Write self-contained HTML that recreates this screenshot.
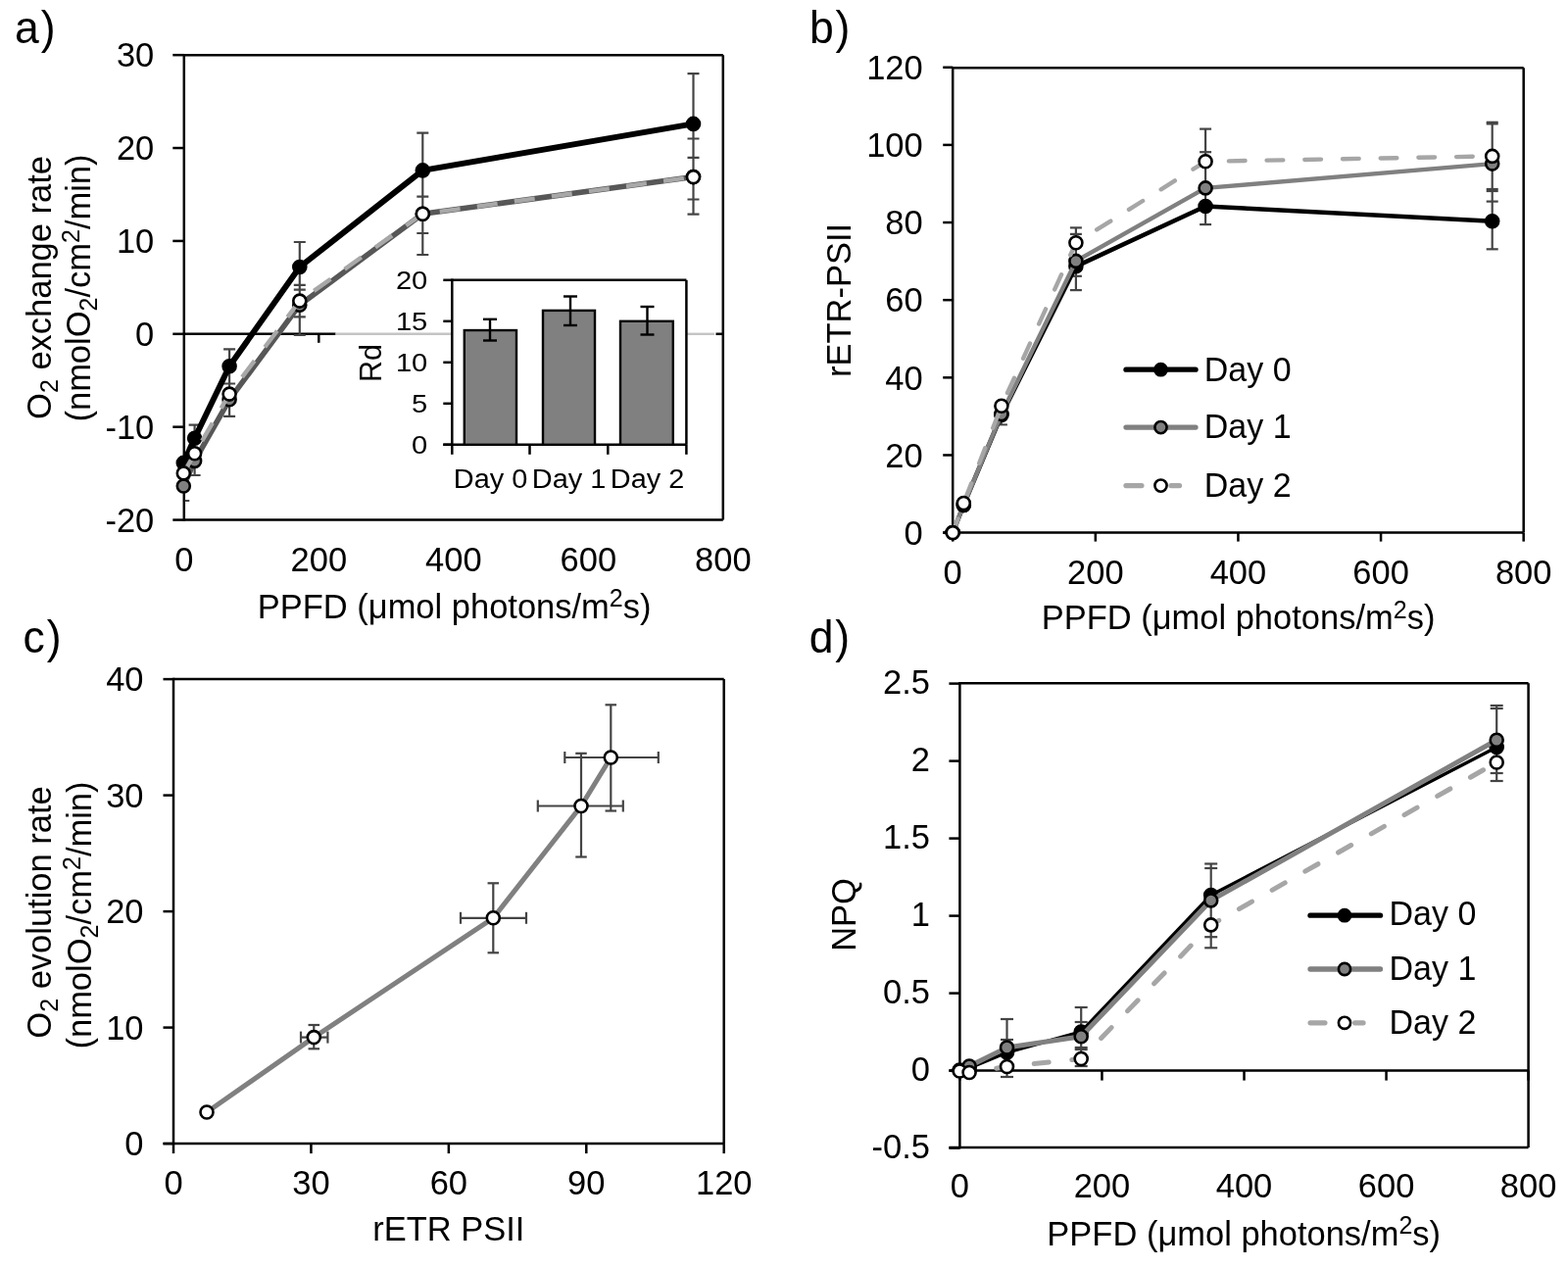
<!DOCTYPE html>
<html><head><meta charset="utf-8"><title>Figure</title>
<style>
html,body{margin:0;padding:0;background:#fff;}
svg{display:block;filter:blur(0.45px);}
svg text{font-family:"Liberation Sans", Arial, sans-serif;fill:#000;}
</style></head>
<body>
<svg width="1600" height="1294" viewBox="0 0 1600 1294">
<rect width="1600" height="1294" fill="#fff"/>
<g id="pa">
<text transform="translate(15.10,43.70) scale(1,1.035)" text-anchor="start" font-size="44.5" letter-spacing="1.8">a)</text>
<line x1="187.80" y1="56.20" x2="737.80" y2="56.20" stroke="#000" stroke-width="2.5" />
<line x1="737.80" y1="56.20" x2="737.80" y2="530.60" stroke="#000" stroke-width="2.5" />
<line x1="187.80" y1="530.60" x2="737.80" y2="530.60" stroke="#000" stroke-width="2.5" />
<line x1="187.80" y1="54.95" x2="187.80" y2="531.85" stroke="#000" stroke-width="2.5" />
<line x1="176.30" y1="56.16" x2="187.80" y2="56.16" stroke="#000" stroke-width="2.5" />
<text transform="translate(157.30,68.36) scale(1,1.035)" text-anchor="end" font-size="34.5" >30</text>
<line x1="176.30" y1="151.04" x2="187.80" y2="151.04" stroke="#000" stroke-width="2.5" />
<text transform="translate(157.30,163.24) scale(1,1.035)" text-anchor="end" font-size="34.5" >20</text>
<line x1="176.30" y1="245.92" x2="187.80" y2="245.92" stroke="#000" stroke-width="2.5" />
<text transform="translate(157.30,258.12) scale(1,1.035)" text-anchor="end" font-size="34.5" >10</text>
<line x1="176.30" y1="340.80" x2="187.80" y2="340.80" stroke="#000" stroke-width="2.5" />
<text transform="translate(157.30,353.00) scale(1,1.035)" text-anchor="end" font-size="34.5" >0</text>
<line x1="176.30" y1="435.68" x2="187.80" y2="435.68" stroke="#000" stroke-width="2.5" />
<text transform="translate(157.30,447.88) scale(1,1.035)" text-anchor="end" font-size="34.5" >-10</text>
<line x1="176.30" y1="530.56" x2="187.80" y2="530.56" stroke="#000" stroke-width="2.5" />
<text transform="translate(157.30,542.76) scale(1,1.035)" text-anchor="end" font-size="34.5" >-20</text>
<line x1="187.80" y1="340.80" x2="342.50" y2="340.80" stroke="#000" stroke-width="2.5" />
<line x1="342.50" y1="340.80" x2="461.30" y2="340.80" stroke="#c4c4c4" stroke-width="2.4" />
<line x1="700.40" y1="340.80" x2="729.00" y2="340.80" stroke="#c4c4c4" stroke-width="2.4" />
<line x1="730.50" y1="340.80" x2="737.80" y2="340.80" stroke="#000" stroke-width="2.5" />
<line x1="325.30" y1="340.80" x2="325.30" y2="349.80" stroke="#000" stroke-width="2.5" />
<text transform="translate(187.80,583.00) scale(1,1.035)" text-anchor="middle" font-size="34.5" >0</text>
<text transform="translate(325.30,583.00) scale(1,1.035)" text-anchor="middle" font-size="34.5" >200</text>
<text transform="translate(462.80,583.00) scale(1,1.035)" text-anchor="middle" font-size="34.5" >400</text>
<text transform="translate(600.30,583.00) scale(1,1.035)" text-anchor="middle" font-size="34.5" >600</text>
<text transform="translate(737.80,583.00) scale(1,1.035)" text-anchor="middle" font-size="34.5" >800</text>
<text transform="translate(463.60,630.50) scale(1,1.035)" text-anchor="middle" font-size="34.5" >PPFD (μmol photons/m<tspan dy="-11" font-size="25">2</tspan><tspan dy="11">s)</tspan></text>
<text transform="translate(51.50,293.50) rotate(-90) scale(1,1.035)" text-anchor="middle" font-size="34.5">O<tspan dy="7" font-size="25">2</tspan><tspan dy="-7"> exchange rate</tspan></text>
<text transform="translate(92.00,294.00) rotate(-90) scale(1,1.035)" text-anchor="middle" font-size="34.5">(nmolO<tspan dy="7" font-size="25">2</tspan><tspan dy="-7">/cm</tspan><tspan dy="-11" font-size="25">2</tspan><tspan dy="11">/min)</tspan></text>
<clipPath id="ca"><rect x="188.5" y="56" width="560" height="474"/></clipPath>
<g clip-path="url(#ca)">
<line x1="187.30" y1="496.00" x2="187.30" y2="511.00" stroke="#444" stroke-width="2" />
<line x1="181.30" y1="511.00" x2="193.30" y2="511.00" stroke="#444" stroke-width="2" />
<line x1="198.60" y1="433.70" x2="198.60" y2="485.00" stroke="#444" stroke-width="2.2" />
<line x1="192.60" y1="433.70" x2="204.60" y2="433.70" stroke="#444" stroke-width="2.2" />
<line x1="192.60" y1="485.00" x2="204.60" y2="485.00" stroke="#444" stroke-width="2.2" />
<line x1="234.10" y1="356.30" x2="234.10" y2="424.80" stroke="#444" stroke-width="2.2" />
<line x1="228.10" y1="356.30" x2="240.10" y2="356.30" stroke="#444" stroke-width="2.2" />
<line x1="228.10" y1="391.50" x2="240.10" y2="391.50" stroke="#444" stroke-width="2.2" />
<line x1="228.10" y1="424.80" x2="240.10" y2="424.80" stroke="#444" stroke-width="2.2" />
<line x1="305.80" y1="247.00" x2="305.80" y2="342.00" stroke="#444" stroke-width="2.2" />
<line x1="299.80" y1="247.00" x2="311.80" y2="247.00" stroke="#444" stroke-width="2.2" />
<line x1="299.80" y1="290.90" x2="311.80" y2="290.90" stroke="#444" stroke-width="2.2" />
<line x1="299.80" y1="295.70" x2="311.80" y2="295.70" stroke="#444" stroke-width="2.2" />
<line x1="299.80" y1="323.30" x2="311.80" y2="323.30" stroke="#444" stroke-width="2.2" />
<line x1="299.80" y1="342.00" x2="311.80" y2="342.00" stroke="#444" stroke-width="2.2" />
<line x1="431.30" y1="135.70" x2="431.30" y2="260.00" stroke="#444" stroke-width="2.2" />
<line x1="425.30" y1="135.70" x2="437.30" y2="135.70" stroke="#444" stroke-width="2.2" />
<line x1="425.30" y1="200.60" x2="437.30" y2="200.60" stroke="#444" stroke-width="2.2" />
<line x1="425.30" y1="238.00" x2="437.30" y2="238.00" stroke="#444" stroke-width="2.2" />
<line x1="425.30" y1="260.00" x2="437.30" y2="260.00" stroke="#444" stroke-width="2.2" />
<line x1="707.50" y1="75.10" x2="707.50" y2="218.70" stroke="#444" stroke-width="2.2" />
<line x1="701.50" y1="75.10" x2="713.50" y2="75.10" stroke="#444" stroke-width="2.2" />
<line x1="701.50" y1="141.50" x2="713.50" y2="141.50" stroke="#444" stroke-width="2.2" />
<line x1="701.50" y1="160.90" x2="713.50" y2="160.90" stroke="#444" stroke-width="2.2" />
<line x1="701.50" y1="203.50" x2="713.50" y2="203.50" stroke="#444" stroke-width="2.2" />
<line x1="701.50" y1="218.70" x2="713.50" y2="218.70" stroke="#444" stroke-width="2.2" />
</g>
<polyline points="187.30,472.40 198.60,447.20 234.10,373.70 305.80,272.50 431.30,173.90 707.50,126.40" fill="none" stroke="#000" stroke-width="6" stroke-linejoin="round" />
<circle cx="187.30" cy="472.40" r="6.5" fill="#000" stroke="#000" stroke-width="2.6"/>
<circle cx="198.60" cy="447.20" r="6.5" fill="#000" stroke="#000" stroke-width="2.6"/>
<circle cx="234.10" cy="373.70" r="6.5" fill="#000" stroke="#000" stroke-width="2.6"/>
<circle cx="305.80" cy="272.50" r="6.5" fill="#000" stroke="#000" stroke-width="2.6"/>
<circle cx="431.30" cy="173.90" r="6.5" fill="#000" stroke="#000" stroke-width="2.6"/>
<circle cx="707.50" cy="126.40" r="6.5" fill="#000" stroke="#000" stroke-width="2.6"/>
<polyline points="187.30,496.00 198.60,470.40 234.10,407.80 305.80,311.20 431.30,218.30 707.50,180.60" fill="none" stroke="#575757" stroke-width="5.6" stroke-linejoin="round" />
<circle cx="187.30" cy="496.00" r="6.5" fill="#808080" stroke="#000" stroke-width="2.6"/>
<circle cx="198.60" cy="470.40" r="6.5" fill="#808080" stroke="#000" stroke-width="2.6"/>
<circle cx="234.10" cy="407.80" r="6.5" fill="#808080" stroke="#000" stroke-width="2.6"/>
<circle cx="305.80" cy="311.20" r="6.5" fill="#808080" stroke="#000" stroke-width="2.6"/>
<circle cx="431.30" cy="218.30" r="6.5" fill="#808080" stroke="#000" stroke-width="2.6"/>
<circle cx="707.50" cy="180.60" r="6.5" fill="#808080" stroke="#000" stroke-width="2.6"/>
<polyline points="187.30,482.90 198.60,462.80 234.10,402.10 305.80,307.10 431.30,218.30 707.50,180.60" fill="none" stroke="#a8a8a8" stroke-width="4.4" stroke-linejoin="round" stroke-dasharray="21 17.4" stroke-dashoffset="0.26" stroke-linecap="butt"/>
<circle cx="187.30" cy="482.90" r="6.5" fill="#fff" stroke="#000" stroke-width="2.6"/>
<circle cx="198.60" cy="462.80" r="6.5" fill="#fff" stroke="#000" stroke-width="2.6"/>
<circle cx="234.10" cy="402.10" r="6.5" fill="#fff" stroke="#000" stroke-width="2.6"/>
<circle cx="305.80" cy="307.10" r="6.5" fill="#fff" stroke="#000" stroke-width="2.6"/>
<circle cx="431.30" cy="218.30" r="6.5" fill="#fff" stroke="#000" stroke-width="2.6"/>
<circle cx="707.50" cy="180.60" r="6.5" fill="#fff" stroke="#000" stroke-width="2.6"/>
</g>
<g id="inset">
<line x1="461.30" y1="285.80" x2="700.40" y2="285.80" stroke="#000" stroke-width="2.5" />
<line x1="700.40" y1="285.80" x2="700.40" y2="453.80" stroke="#000" stroke-width="2.5" />
<line x1="461.30" y1="284.55" x2="461.30" y2="455.05" stroke="#000" stroke-width="2.5" />
<line x1="452.30" y1="453.80" x2="700.40" y2="453.80" stroke="#000" stroke-width="2.5" />
<line x1="452.30" y1="453.80" x2="461.30" y2="453.80" stroke="#000" stroke-width="2.5" />
<text transform="translate(436.30,463.10) scale(1.1,1.0)" text-anchor="end" font-size="26.5">0</text>
<line x1="452.30" y1="411.80" x2="461.30" y2="411.80" stroke="#000" stroke-width="2.5" />
<text transform="translate(436.30,421.10) scale(1.1,1.0)" text-anchor="end" font-size="26.5">5</text>
<line x1="452.30" y1="369.80" x2="461.30" y2="369.80" stroke="#000" stroke-width="2.5" />
<text transform="translate(436.30,379.10) scale(1.1,1.0)" text-anchor="end" font-size="26.5">10</text>
<line x1="452.30" y1="327.80" x2="461.30" y2="327.80" stroke="#000" stroke-width="2.5" />
<text transform="translate(436.30,337.10) scale(1.1,1.0)" text-anchor="end" font-size="26.5">15</text>
<line x1="452.30" y1="285.80" x2="461.30" y2="285.80" stroke="#000" stroke-width="2.5" />
<text transform="translate(436.30,295.10) scale(1.1,1.0)" text-anchor="end" font-size="26.5">20</text>
<line x1="461.30" y1="453.80" x2="461.30" y2="463.80" stroke="#000" stroke-width="2.5" />
<line x1="540.50" y1="453.80" x2="540.50" y2="463.80" stroke="#000" stroke-width="2.5" />
<line x1="620.30" y1="453.80" x2="620.30" y2="463.80" stroke="#000" stroke-width="2.5" />
<line x1="700.40" y1="453.80" x2="700.40" y2="463.80" stroke="#000" stroke-width="2.5" />
<rect x="473.80" y="337.04" width="53.20" height="116.76" fill="#808080" stroke="#000" stroke-width="2.4"/>
<line x1="500.00" y1="325.80" x2="500.00" y2="347.50" stroke="#000" stroke-width="2.4" />
<line x1="493.00" y1="325.80" x2="507.00" y2="325.80" stroke="#000" stroke-width="2.4" />
<line x1="493.00" y1="347.50" x2="507.00" y2="347.50" stroke="#000" stroke-width="2.4" />
<rect x="554.00" y="316.88" width="53.00" height="136.92" fill="#808080" stroke="#000" stroke-width="2.4"/>
<line x1="582.00" y1="302.50" x2="582.00" y2="332.00" stroke="#000" stroke-width="2.4" />
<line x1="575.00" y1="302.50" x2="589.00" y2="302.50" stroke="#000" stroke-width="2.4" />
<line x1="575.00" y1="332.00" x2="589.00" y2="332.00" stroke="#000" stroke-width="2.4" />
<rect x="633.00" y="327.80" width="53.80" height="126.00" fill="#808080" stroke="#000" stroke-width="2.4"/>
<line x1="660.50" y1="313.00" x2="660.50" y2="341.50" stroke="#000" stroke-width="2.4" />
<line x1="653.50" y1="313.00" x2="667.50" y2="313.00" stroke="#000" stroke-width="2.4" />
<line x1="653.50" y1="341.50" x2="667.50" y2="341.50" stroke="#000" stroke-width="2.4" />
<text transform="translate(500.50,497.80) scale(1.07,1.0)" text-anchor="middle" font-size="27">Day 0</text>
<text transform="translate(580.50,497.80) scale(1.07,1.0)" text-anchor="middle" font-size="27">Day 1</text>
<text transform="translate(660.50,497.80) scale(1.07,1.0)" text-anchor="middle" font-size="27">Day 2</text>
<text transform="translate(388.80,370.50) rotate(-90) scale(1.0,1.0)" text-anchor="middle" font-size="30.5">Rd</text>
</g>
<text transform="translate(826.00,43.70) scale(1,1.035)" text-anchor="start" font-size="44.5" letter-spacing="1.8">b)</text>
<line x1="972.20" y1="69.20" x2="1554.70" y2="69.20" stroke="#000" stroke-width="2.5" />
<line x1="1554.70" y1="69.20" x2="1554.70" y2="543.60" stroke="#000" stroke-width="2.5" />
<line x1="962.20" y1="543.60" x2="1554.70" y2="543.60" stroke="#000" stroke-width="2.5" />
<line x1="972.20" y1="67.95" x2="972.20" y2="544.85" stroke="#000" stroke-width="2.5" />
<line x1="962.20" y1="543.60" x2="972.20" y2="543.60" stroke="#000" stroke-width="2.5" />
<text transform="translate(941.70,555.80) scale(1,1.035)" text-anchor="end" font-size="34.5" >0</text>
<line x1="962.20" y1="464.46" x2="972.20" y2="464.46" stroke="#000" stroke-width="2.5" />
<text transform="translate(941.70,476.66) scale(1,1.035)" text-anchor="end" font-size="34.5" >20</text>
<line x1="962.20" y1="385.32" x2="972.20" y2="385.32" stroke="#000" stroke-width="2.5" />
<text transform="translate(941.70,397.52) scale(1,1.035)" text-anchor="end" font-size="34.5" >40</text>
<line x1="962.20" y1="306.18" x2="972.20" y2="306.18" stroke="#000" stroke-width="2.5" />
<text transform="translate(941.70,318.38) scale(1,1.035)" text-anchor="end" font-size="34.5" >60</text>
<line x1="962.20" y1="227.04" x2="972.20" y2="227.04" stroke="#000" stroke-width="2.5" />
<text transform="translate(941.70,239.24) scale(1,1.035)" text-anchor="end" font-size="34.5" >80</text>
<line x1="962.20" y1="147.90" x2="972.20" y2="147.90" stroke="#000" stroke-width="2.5" />
<text transform="translate(941.70,160.10) scale(1,1.035)" text-anchor="end" font-size="34.5" >100</text>
<line x1="962.20" y1="68.76" x2="972.20" y2="68.76" stroke="#000" stroke-width="2.5" />
<text transform="translate(941.70,80.96) scale(1,1.035)" text-anchor="end" font-size="34.5" >120</text>
<line x1="972.20" y1="543.60" x2="972.20" y2="552.60" stroke="#000" stroke-width="2.5" />
<text transform="translate(972.20,596.00) scale(1,1.035)" text-anchor="middle" font-size="34.5" >0</text>
<line x1="1117.82" y1="543.60" x2="1117.82" y2="552.60" stroke="#000" stroke-width="2.5" />
<text transform="translate(1117.82,596.00) scale(1,1.035)" text-anchor="middle" font-size="34.5" >200</text>
<line x1="1263.44" y1="543.60" x2="1263.44" y2="552.60" stroke="#000" stroke-width="2.5" />
<text transform="translate(1263.44,596.00) scale(1,1.035)" text-anchor="middle" font-size="34.5" >400</text>
<line x1="1409.06" y1="543.60" x2="1409.06" y2="552.60" stroke="#000" stroke-width="2.5" />
<text transform="translate(1409.06,596.00) scale(1,1.035)" text-anchor="middle" font-size="34.5" >600</text>
<line x1="1554.68" y1="543.60" x2="1554.68" y2="552.60" stroke="#000" stroke-width="2.5" />
<text transform="translate(1554.68,596.00) scale(1,1.035)" text-anchor="middle" font-size="34.5" >800</text>
<text transform="translate(1263.50,642.20) scale(1,1.035)" text-anchor="middle" font-size="34.5" >PPFD (μmol photons/m<tspan dy="-11" font-size="25">2</tspan><tspan dy="11">s)</tspan></text>
<text transform="translate(868.00,306.50) rotate(-90) scale(1,1.035)" text-anchor="middle" font-size="34.5">rETR-PSII</text>
<line x1="1021.90" y1="422.50" x2="1021.90" y2="433.40" stroke="#444" stroke-width="2" />
<line x1="1015.90" y1="433.40" x2="1027.90" y2="433.40" stroke="#444" stroke-width="2" />
<line x1="1097.90" y1="232.40" x2="1097.90" y2="296.10" stroke="#444" stroke-width="2.2" />
<line x1="1091.90" y1="232.40" x2="1103.90" y2="232.40" stroke="#444" stroke-width="2.2" />
<line x1="1091.90" y1="238.90" x2="1103.90" y2="238.90" stroke="#444" stroke-width="2.2" />
<line x1="1091.90" y1="281.80" x2="1103.90" y2="281.80" stroke="#444" stroke-width="2.2" />
<line x1="1091.90" y1="296.10" x2="1103.90" y2="296.10" stroke="#444" stroke-width="2.2" />
<line x1="1230.10" y1="131.60" x2="1230.10" y2="229.10" stroke="#444" stroke-width="2.2" />
<line x1="1224.10" y1="131.60" x2="1236.10" y2="131.60" stroke="#444" stroke-width="2.2" />
<line x1="1224.10" y1="155.20" x2="1236.10" y2="155.20" stroke="#444" stroke-width="2.2" />
<line x1="1224.10" y1="229.10" x2="1236.10" y2="229.10" stroke="#444" stroke-width="2.2" />
<line x1="1522.70" y1="124.80" x2="1522.70" y2="254.30" stroke="#444" stroke-width="2.2" />
<line x1="1516.70" y1="124.80" x2="1528.70" y2="124.80" stroke="#444" stroke-width="2.2" />
<line x1="1516.70" y1="126.40" x2="1528.70" y2="126.40" stroke="#444" stroke-width="2.2" />
<line x1="1516.70" y1="193.00" x2="1528.70" y2="193.00" stroke="#444" stroke-width="2.2" />
<line x1="1516.70" y1="195.00" x2="1528.70" y2="195.00" stroke="#444" stroke-width="2.2" />
<line x1="1516.70" y1="205.60" x2="1528.70" y2="205.60" stroke="#444" stroke-width="2.2" />
<line x1="1516.70" y1="254.30" x2="1528.70" y2="254.30" stroke="#444" stroke-width="2.2" />
<polyline points="972.20,543.60 983.30,515.50 1021.90,423.50 1097.90,271.80 1230.10,210.50 1522.70,225.80" fill="none" stroke="#000" stroke-width="4.6" stroke-linejoin="round" />
<circle cx="972.20" cy="543.60" r="6.5" fill="#000" stroke="#000" stroke-width="2.6"/>
<circle cx="983.30" cy="515.50" r="6.5" fill="#000" stroke="#000" stroke-width="2.6"/>
<circle cx="1021.90" cy="423.50" r="6.5" fill="#000" stroke="#000" stroke-width="2.6"/>
<circle cx="1097.90" cy="271.80" r="6.5" fill="#000" stroke="#000" stroke-width="2.6"/>
<circle cx="1230.10" cy="210.50" r="6.5" fill="#000" stroke="#000" stroke-width="2.6"/>
<circle cx="1522.70" cy="225.80" r="6.5" fill="#000" stroke="#000" stroke-width="2.6"/>
<polyline points="972.20,543.60 983.30,515.50 1021.90,422.50 1097.90,266.40 1230.10,191.90 1522.70,167.10" fill="none" stroke="#808080" stroke-width="4.4" stroke-linejoin="round" />
<circle cx="972.20" cy="543.60" r="6.5" fill="#808080" stroke="#000" stroke-width="2.6"/>
<circle cx="983.30" cy="515.50" r="6.5" fill="#808080" stroke="#000" stroke-width="2.6"/>
<circle cx="1021.90" cy="422.50" r="6.5" fill="#808080" stroke="#000" stroke-width="2.6"/>
<circle cx="1097.90" cy="266.40" r="6.5" fill="#808080" stroke="#000" stroke-width="2.6"/>
<circle cx="1230.10" cy="191.90" r="6.5" fill="#808080" stroke="#000" stroke-width="2.6"/>
<circle cx="1522.70" cy="167.10" r="6.5" fill="#808080" stroke="#000" stroke-width="2.6"/>
<polyline points="972.20,543.60 983.30,513.50 1021.90,414.30 1097.90,247.80 1230.10,164.80 1522.70,159.40" fill="none" stroke="#a6a6a6" stroke-width="4.4" stroke-linejoin="round" stroke-dasharray="16.7 22.0" stroke-dashoffset="1.65" stroke-linecap="round"/>
<circle cx="972.20" cy="543.60" r="6.5" fill="#fff" stroke="#000" stroke-width="2.6"/>
<circle cx="983.30" cy="513.50" r="6.5" fill="#fff" stroke="#000" stroke-width="2.6"/>
<circle cx="1021.90" cy="414.30" r="6.5" fill="#fff" stroke="#000" stroke-width="2.6"/>
<circle cx="1097.90" cy="247.80" r="6.5" fill="#fff" stroke="#000" stroke-width="2.6"/>
<circle cx="1230.10" cy="164.80" r="6.5" fill="#fff" stroke="#000" stroke-width="2.6"/>
<circle cx="1522.70" cy="159.40" r="6.5" fill="#fff" stroke="#000" stroke-width="2.6"/>
<line x1="1149.00" y1="377.20" x2="1220.00" y2="377.20" stroke="#000" stroke-width="5.3" stroke-linecap="round"/>
<circle cx="1184.50" cy="377.20" r="6.1" fill="#000" stroke="#000" stroke-width="2.6"/>
<line x1="1149.00" y1="436.10" x2="1220.00" y2="436.10" stroke="#808080" stroke-width="5.3" stroke-linecap="round"/>
<circle cx="1184.50" cy="436.10" r="6.1" fill="#808080" stroke="#000" stroke-width="2.6"/>
<line x1="1149.00" y1="495.60" x2="1164.90" y2="495.60" stroke="#a6a6a6" stroke-width="5.3" stroke-linecap="round"/>
<line x1="1195.00" y1="495.60" x2="1203.50" y2="495.60" stroke="#a6a6a6" stroke-width="5.3" stroke-linecap="round"/>
<circle cx="1184.50" cy="495.60" r="6.1" fill="#fff" stroke="#000" stroke-width="2.6"/>
<text transform="translate(1228.80,389.20) scale(1,1.035)" text-anchor="start" font-size="34" >Day 0</text>
<text transform="translate(1228.80,447.20) scale(1,1.035)" text-anchor="start" font-size="34" >Day 1</text>
<text transform="translate(1228.80,506.60) scale(1,1.035)" text-anchor="start" font-size="34" >Day 2</text>
<text transform="translate(23.60,665.60) scale(1,1.035)" text-anchor="start" font-size="44.5" letter-spacing="1.8">c)</text>
<line x1="177.00" y1="693.00" x2="738.70" y2="693.00" stroke="#000" stroke-width="2.5" />
<line x1="738.70" y1="693.00" x2="738.70" y2="1167.10" stroke="#000" stroke-width="2.5" />
<line x1="166.50" y1="1167.10" x2="738.70" y2="1167.10" stroke="#000" stroke-width="2.5" />
<line x1="177.00" y1="691.75" x2="177.00" y2="1168.35" stroke="#000" stroke-width="2.5" />
<line x1="166.50" y1="1167.10" x2="177.00" y2="1167.10" stroke="#000" stroke-width="2.5" />
<text transform="translate(146.50,1179.30) scale(1,1.035)" text-anchor="end" font-size="34.5" >0</text>
<line x1="166.50" y1="1048.60" x2="177.00" y2="1048.60" stroke="#000" stroke-width="2.5" />
<text transform="translate(146.50,1060.80) scale(1,1.035)" text-anchor="end" font-size="34.5" >10</text>
<line x1="166.50" y1="930.10" x2="177.00" y2="930.10" stroke="#000" stroke-width="2.5" />
<text transform="translate(146.50,942.30) scale(1,1.035)" text-anchor="end" font-size="34.5" >20</text>
<line x1="166.50" y1="811.60" x2="177.00" y2="811.60" stroke="#000" stroke-width="2.5" />
<text transform="translate(146.50,823.80) scale(1,1.035)" text-anchor="end" font-size="34.5" >30</text>
<line x1="166.50" y1="693.10" x2="177.00" y2="693.10" stroke="#000" stroke-width="2.5" />
<text transform="translate(146.50,705.30) scale(1,1.035)" text-anchor="end" font-size="34.5" >40</text>
<line x1="177.00" y1="1167.10" x2="177.00" y2="1177.10" stroke="#000" stroke-width="2.5" />
<text transform="translate(177.00,1218.60) scale(1,1.035)" text-anchor="middle" font-size="34.5" >0</text>
<line x1="317.43" y1="1167.10" x2="317.43" y2="1177.10" stroke="#000" stroke-width="2.5" />
<text transform="translate(317.43,1218.60) scale(1,1.035)" text-anchor="middle" font-size="34.5" >30</text>
<line x1="457.86" y1="1167.10" x2="457.86" y2="1177.10" stroke="#000" stroke-width="2.5" />
<text transform="translate(457.86,1218.60) scale(1,1.035)" text-anchor="middle" font-size="34.5" >60</text>
<line x1="598.29" y1="1167.10" x2="598.29" y2="1177.10" stroke="#000" stroke-width="2.5" />
<text transform="translate(598.29,1218.60) scale(1,1.035)" text-anchor="middle" font-size="34.5" >90</text>
<line x1="738.72" y1="1167.10" x2="738.72" y2="1177.10" stroke="#000" stroke-width="2.5" />
<text transform="translate(738.72,1218.60) scale(1,1.035)" text-anchor="middle" font-size="34.5" >120</text>
<text transform="translate(457.80,1265.60) scale(1,1.035)" text-anchor="middle" font-size="34.5" >rETR PSII</text>
<text transform="translate(52.00,931.00) rotate(-90) scale(1,1.035)" text-anchor="middle" font-size="34.5">O<tspan dy="7" font-size="25">2</tspan><tspan dy="-7"> evolution rate</tspan></text>
<text transform="translate(93.00,934.00) rotate(-90) scale(1,1.035)" text-anchor="middle" font-size="34.5">(nmolO<tspan dy="7" font-size="25">2</tspan><tspan dy="-7">/cm</tspan><tspan dy="-11" font-size="25">2</tspan><tspan dy="11">/min)</tspan></text>
<line x1="320.30" y1="1046.00" x2="320.30" y2="1070.30" stroke="#444" stroke-width="2.2" />
<line x1="314.55" y1="1046.00" x2="326.05" y2="1046.00" stroke="#444" stroke-width="2.2" />
<line x1="314.55" y1="1070.30" x2="326.05" y2="1070.30" stroke="#444" stroke-width="2.2" />
<line x1="307.00" y1="1058.60" x2="334.40" y2="1058.60" stroke="#444" stroke-width="2.2" />
<line x1="307.00" y1="1052.60" x2="307.00" y2="1064.60" stroke="#444" stroke-width="2.2" />
<line x1="334.40" y1="1052.60" x2="334.40" y2="1064.60" stroke="#444" stroke-width="2.2" />
<line x1="503.30" y1="901.30" x2="503.30" y2="972.30" stroke="#444" stroke-width="2.2" />
<line x1="497.55" y1="901.30" x2="509.05" y2="901.30" stroke="#444" stroke-width="2.2" />
<line x1="497.55" y1="972.30" x2="509.05" y2="972.30" stroke="#444" stroke-width="2.2" />
<line x1="470.00" y1="936.80" x2="537.00" y2="936.80" stroke="#444" stroke-width="2.2" />
<line x1="470.00" y1="930.80" x2="470.00" y2="942.80" stroke="#444" stroke-width="2.2" />
<line x1="537.00" y1="930.80" x2="537.00" y2="942.80" stroke="#444" stroke-width="2.2" />
<line x1="593.00" y1="768.80" x2="593.00" y2="874.50" stroke="#444" stroke-width="2.2" />
<line x1="587.25" y1="768.80" x2="598.75" y2="768.80" stroke="#444" stroke-width="2.2" />
<line x1="587.25" y1="874.50" x2="598.75" y2="874.50" stroke="#444" stroke-width="2.2" />
<line x1="548.80" y1="822.50" x2="635.80" y2="822.50" stroke="#444" stroke-width="2.2" />
<line x1="548.80" y1="816.50" x2="548.80" y2="828.50" stroke="#444" stroke-width="2.2" />
<line x1="635.80" y1="816.50" x2="635.80" y2="828.50" stroke="#444" stroke-width="2.2" />
<line x1="623.30" y1="719.30" x2="623.30" y2="827.50" stroke="#444" stroke-width="2.2" />
<line x1="617.55" y1="719.30" x2="629.05" y2="719.30" stroke="#444" stroke-width="2.2" />
<line x1="617.55" y1="827.50" x2="629.05" y2="827.50" stroke="#444" stroke-width="2.2" />
<line x1="576.30" y1="773.00" x2="671.80" y2="773.00" stroke="#444" stroke-width="2.2" />
<line x1="576.30" y1="767.00" x2="576.30" y2="779.00" stroke="#444" stroke-width="2.2" />
<line x1="671.80" y1="767.00" x2="671.80" y2="779.00" stroke="#444" stroke-width="2.2" />
<path d="M211.00,1135.00 C211.00,1135.00 320.30,1058.60 320.30,1058.60 C320.30,1058.60 503.30,936.80 503.30,936.80 C503.30,936.80 593.00,822.50 593.00,822.50 C593.00,822.50 623.30,773.00 623.30,773.00" fill="none" stroke="#808080" stroke-width="5"/>
<circle cx="211.00" cy="1135.00" r="6.5" fill="#fff" stroke="#000" stroke-width="2.6"/>
<circle cx="320.30" cy="1058.60" r="6.5" fill="#fff" stroke="#000" stroke-width="2.6"/>
<circle cx="503.30" cy="936.80" r="6.5" fill="#fff" stroke="#000" stroke-width="2.6"/>
<circle cx="593.00" cy="822.50" r="6.5" fill="#fff" stroke="#000" stroke-width="2.6"/>
<circle cx="623.30" cy="773.00" r="6.5" fill="#fff" stroke="#000" stroke-width="2.6"/>
<text transform="translate(825.80,665.60) scale(1,1.035)" text-anchor="start" font-size="44.5" letter-spacing="1.8">d)</text>
<line x1="979.40" y1="697.20" x2="1559.60" y2="697.20" stroke="#000" stroke-width="2.5" />
<line x1="1559.60" y1="697.20" x2="1559.60" y2="1171.00" stroke="#000" stroke-width="2.5" />
<line x1="968.40" y1="1171.00" x2="1559.60" y2="1171.00" stroke="#000" stroke-width="2.5" />
<line x1="979.40" y1="695.95" x2="979.40" y2="1172.25" stroke="#000" stroke-width="2.5" />
<line x1="968.40" y1="1092.60" x2="1559.60" y2="1092.60" stroke="#000" stroke-width="2.5" />
<line x1="968.40" y1="697.60" x2="979.40" y2="697.60" stroke="#000" stroke-width="2.5" />
<text transform="translate(948.90,708.00) scale(1,1.035)" text-anchor="end" font-size="34.5" >2.5</text>
<line x1="968.40" y1="776.60" x2="979.40" y2="776.60" stroke="#000" stroke-width="2.5" />
<text transform="translate(948.90,787.00) scale(1,1.035)" text-anchor="end" font-size="34.5" >2</text>
<line x1="968.40" y1="855.60" x2="979.40" y2="855.60" stroke="#000" stroke-width="2.5" />
<text transform="translate(948.90,866.00) scale(1,1.035)" text-anchor="end" font-size="34.5" >1.5</text>
<line x1="968.40" y1="934.60" x2="979.40" y2="934.60" stroke="#000" stroke-width="2.5" />
<text transform="translate(948.90,945.00) scale(1,1.035)" text-anchor="end" font-size="34.5" >1</text>
<line x1="968.40" y1="1013.60" x2="979.40" y2="1013.60" stroke="#000" stroke-width="2.5" />
<text transform="translate(948.90,1024.00) scale(1,1.035)" text-anchor="end" font-size="34.5" >0.5</text>
<line x1="968.40" y1="1092.60" x2="979.40" y2="1092.60" stroke="#000" stroke-width="2.5" />
<text transform="translate(948.90,1103.00) scale(1,1.035)" text-anchor="end" font-size="34.5" >0</text>
<line x1="968.40" y1="1171.60" x2="979.40" y2="1171.60" stroke="#000" stroke-width="2.5" />
<text transform="translate(948.90,1182.00) scale(1,1.035)" text-anchor="end" font-size="34.5" >-0.5</text>
<line x1="979.40" y1="1092.60" x2="979.40" y2="1102.60" stroke="#000" stroke-width="2.5" />
<text transform="translate(979.40,1222.20) scale(1,1.035)" text-anchor="middle" font-size="34.5" >0</text>
<line x1="1124.46" y1="1092.60" x2="1124.46" y2="1102.60" stroke="#000" stroke-width="2.5" />
<text transform="translate(1124.46,1222.20) scale(1,1.035)" text-anchor="middle" font-size="34.5" >200</text>
<line x1="1269.52" y1="1092.60" x2="1269.52" y2="1102.60" stroke="#000" stroke-width="2.5" />
<text transform="translate(1269.52,1222.20) scale(1,1.035)" text-anchor="middle" font-size="34.5" >400</text>
<line x1="1414.58" y1="1092.60" x2="1414.58" y2="1102.60" stroke="#000" stroke-width="2.5" />
<text transform="translate(1414.58,1222.20) scale(1,1.035)" text-anchor="middle" font-size="34.5" >600</text>
<line x1="1559.64" y1="1092.60" x2="1559.64" y2="1102.60" stroke="#000" stroke-width="2.5" />
<text transform="translate(1559.64,1222.20) scale(1,1.035)" text-anchor="middle" font-size="34.5" >800</text>
<text transform="translate(1269.20,1270.50) scale(1,1.035)" text-anchor="middle" font-size="34.5" >PPFD (μmol photons/m<tspan dy="-11" font-size="25">2</tspan><tspan dy="11">s)</tspan></text>
<text transform="translate(873.30,933.50) rotate(-90) scale(1,1.035)" text-anchor="middle" font-size="34.5">NPQ</text>
<line x1="1027.50" y1="1040.00" x2="1027.50" y2="1099.00" stroke="#444" stroke-width="2.2" />
<line x1="1021.00" y1="1040.00" x2="1034.00" y2="1040.00" stroke="#444" stroke-width="2.2" />
<line x1="1021.00" y1="1061.00" x2="1034.00" y2="1061.00" stroke="#444" stroke-width="2.2" />
<line x1="1021.00" y1="1099.00" x2="1034.00" y2="1099.00" stroke="#444" stroke-width="2.2" />
<line x1="1103.20" y1="1028.00" x2="1103.20" y2="1088.00" stroke="#444" stroke-width="2.2" />
<line x1="1096.70" y1="1028.00" x2="1109.70" y2="1028.00" stroke="#444" stroke-width="2.2" />
<line x1="1096.70" y1="1043.00" x2="1109.70" y2="1043.00" stroke="#444" stroke-width="2.2" />
<line x1="1096.70" y1="1069.00" x2="1109.70" y2="1069.00" stroke="#444" stroke-width="2.2" />
<line x1="1096.70" y1="1071.00" x2="1109.70" y2="1071.00" stroke="#444" stroke-width="2.2" />
<line x1="1096.70" y1="1088.00" x2="1109.70" y2="1088.00" stroke="#444" stroke-width="2.2" />
<line x1="1235.70" y1="881.50" x2="1235.70" y2="967.30" stroke="#444" stroke-width="2.2" />
<line x1="1229.20" y1="881.50" x2="1242.20" y2="881.50" stroke="#444" stroke-width="2.2" />
<line x1="1229.20" y1="886.00" x2="1242.20" y2="886.00" stroke="#444" stroke-width="2.2" />
<line x1="1229.20" y1="956.20" x2="1242.20" y2="956.20" stroke="#444" stroke-width="2.2" />
<line x1="1229.20" y1="967.30" x2="1242.20" y2="967.30" stroke="#444" stroke-width="2.2" />
<line x1="1527.20" y1="720.00" x2="1527.20" y2="797.00" stroke="#444" stroke-width="2.2" />
<line x1="1520.70" y1="720.00" x2="1533.70" y2="720.00" stroke="#444" stroke-width="2.2" />
<line x1="1520.70" y1="723.00" x2="1533.70" y2="723.00" stroke="#444" stroke-width="2.2" />
<line x1="1520.70" y1="789.00" x2="1533.70" y2="789.00" stroke="#444" stroke-width="2.2" />
<line x1="1520.70" y1="797.00" x2="1533.70" y2="797.00" stroke="#444" stroke-width="2.2" />
<polyline points="979.20,1092.50 989.10,1090.00 1027.50,1074.00 1103.20,1053.00 1235.70,913.50 1527.20,762.50" fill="none" stroke="#000" stroke-width="3.5" stroke-linejoin="round" />
<circle cx="979.20" cy="1092.50" r="6.5" fill="#000" stroke="#000" stroke-width="2.6"/>
<circle cx="989.10" cy="1090.00" r="6.5" fill="#000" stroke="#000" stroke-width="2.6"/>
<circle cx="1027.50" cy="1074.00" r="6.5" fill="#000" stroke="#000" stroke-width="2.6"/>
<circle cx="1103.20" cy="1053.00" r="6.5" fill="#000" stroke="#000" stroke-width="2.6"/>
<circle cx="1235.70" cy="913.50" r="6.5" fill="#000" stroke="#000" stroke-width="2.6"/>
<circle cx="1527.20" cy="762.50" r="6.5" fill="#000" stroke="#000" stroke-width="2.6"/>
<polyline points="979.20,1092.00 989.10,1088.00 1027.50,1069.00 1103.20,1057.80 1235.70,918.90 1527.20,755.20" fill="none" stroke="#808080" stroke-width="5" stroke-linejoin="round" />
<circle cx="979.20" cy="1092.00" r="6.5" fill="#808080" stroke="#000" stroke-width="2.6"/>
<circle cx="989.10" cy="1088.00" r="6.5" fill="#808080" stroke="#000" stroke-width="2.6"/>
<circle cx="1027.50" cy="1069.00" r="6.5" fill="#808080" stroke="#000" stroke-width="2.6"/>
<circle cx="1103.20" cy="1057.80" r="6.5" fill="#808080" stroke="#000" stroke-width="2.6"/>
<circle cx="1235.70" cy="918.90" r="6.5" fill="#808080" stroke="#000" stroke-width="2.6"/>
<circle cx="1527.20" cy="755.20" r="6.5" fill="#808080" stroke="#000" stroke-width="2.6"/>
<polyline points="979.20,1093.00 989.10,1094.50 1027.50,1088.50 1103.20,1080.50 1235.70,943.90 1527.20,778.00" fill="none" stroke="#a6a6a6" stroke-width="5" stroke-linejoin="round" stroke-dasharray="15.1 23.7" stroke-dashoffset="0.90" stroke-linecap="round"/>
<circle cx="979.20" cy="1093.00" r="6.5" fill="#fff" stroke="#000" stroke-width="2.6"/>
<circle cx="989.10" cy="1094.50" r="6.5" fill="#fff" stroke="#000" stroke-width="2.6"/>
<circle cx="1027.50" cy="1088.50" r="6.5" fill="#fff" stroke="#000" stroke-width="2.6"/>
<circle cx="1103.20" cy="1080.50" r="6.5" fill="#fff" stroke="#000" stroke-width="2.6"/>
<circle cx="1235.70" cy="943.90" r="6.5" fill="#fff" stroke="#000" stroke-width="2.6"/>
<circle cx="1527.20" cy="778.00" r="6.5" fill="#fff" stroke="#000" stroke-width="2.6"/>
<line x1="1337.00" y1="934.20" x2="1408.50" y2="934.20" stroke="#000" stroke-width="5.3" stroke-linecap="round"/>
<circle cx="1372.00" cy="934.20" r="6.1" fill="#000" stroke="#000" stroke-width="2.6"/>
<line x1="1337.00" y1="989.00" x2="1408.50" y2="989.00" stroke="#808080" stroke-width="5.3" stroke-linecap="round"/>
<circle cx="1372.00" cy="989.00" r="6.1" fill="#808080" stroke="#000" stroke-width="2.6"/>
<line x1="1337.10" y1="1043.80" x2="1351.90" y2="1043.80" stroke="#a6a6a6" stroke-width="5.3" stroke-linecap="round"/>
<line x1="1382.60" y1="1043.80" x2="1391.00" y2="1043.80" stroke="#a6a6a6" stroke-width="5.3" stroke-linecap="round"/>
<circle cx="1372.00" cy="1043.80" r="6.1" fill="#fff" stroke="#000" stroke-width="2.6"/>
<text transform="translate(1417.50,944.10) scale(1,1.035)" text-anchor="start" font-size="34" >Day 0</text>
<text transform="translate(1417.50,999.60) scale(1,1.035)" text-anchor="start" font-size="34" >Day 1</text>
<text transform="translate(1417.50,1054.80) scale(1,1.035)" text-anchor="start" font-size="34" >Day 2</text>
</svg>
</body></html>
